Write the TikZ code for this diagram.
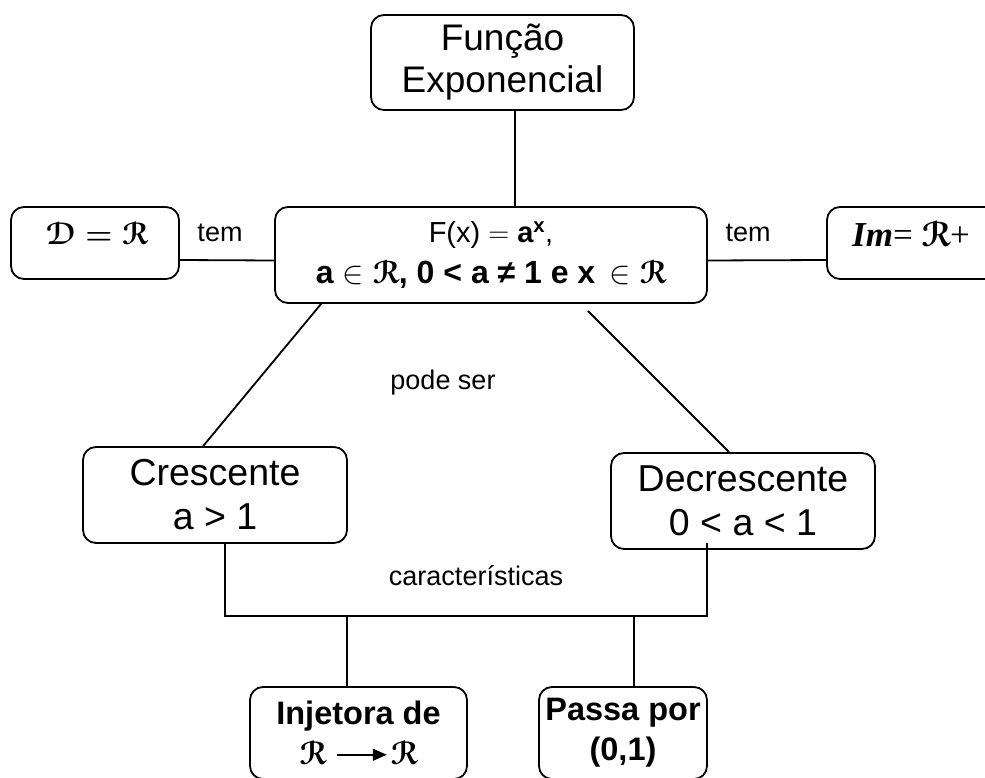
\RequirePackage{fix-cm}
\documentclass[tikz,border=0pt]{standalone}
\usepackage{amsmath}
\usepackage[mathcal]{eucal}
\usepackage{fontspec}
\setmainfont{Liberation Sans}
\newfontfamily\serifface{Liberation Serif}
\usetikzlibrary{arrows.meta}
\newcommand{\bR}{$\boldsymbol{\mathcal{R}}$}
\newcommand{\bIn}{$\in$}
\begin{document}
\begin{tikzpicture}[x=1pt,y=-1pt,
  box/.style={draw,rounded corners=13pt,line width=1.8pt,inner sep=0pt,align=center},
  lbl/.style={inner sep=0pt,font=\fontsize{27}{30}\selectfont},
  conn/.style={line width=1.8pt}]
\useasboundingbox (0,0) rectangle (985,778);
\begin{scope}
\clip (0,0) rectangle (985,778);
% boxes
\node[box,minimum width=263pt,minimum height=95pt,font=\fontsize{37}{42}\selectfont] (top) at (502.5,62.5) {Função\\Exponencial};
\node[box,minimum width=432pt,minimum height=96pt,font=\fontsize{32}{41}\selectfont] (main) at (491,255) {{\fontsize{29}{41}\selectfont F(x) $=$ \textbf{a\textsuperscript{x}},}\\ \textbf{a \bIn{} \bR, 0 < a ≠ 1 e x\hspace{0.45em}\bIn{} \bR}};
\node[box,minimum width=168pt,minimum height=72pt] (D) at (95,243) {};
\node[inner sep=0pt,font=\fontsize{31}{36}\selectfont] (Dt) at (97,234) {$\boldsymbol{\mathcal{D} = \mathcal{R}}$};
\node[box,minimum width=183pt,minimum height=72pt] (Im) at (918.5,243) {};
\node[inner sep=0pt,font=\fontsize{35}{40}\selectfont\serifface] (Imt) at (911,234) {\textbf{\textit{Im}}= \bR+};
\node[box,minimum width=264pt,minimum height=96pt,font=\fontsize{37.5}{44}\selectfont] (cres) at (215,495) {Crescente\\a > 1};
\node[box,minimum width=264pt,minimum height=96pt,font=\fontsize{37.5}{44}\selectfont] (dec) at (743,501) {Decrescente\\0 < a < 1};
\node[box,minimum width=217pt,minimum height=92pt,font=\fontsize{32.5}{40}\selectfont\bfseries] (inj) at (358.5,733) {Injetora de\\ \bR{}\hspace{0.3em}\tikz[x=1pt,y=1pt,baseline=-10pt]\draw[line width=1.6pt,-{Triangle[length=14pt,width=12pt]}] (0,0)--(50,0);\hspace{0.1em}\bR};
\node[box,minimum width=168pt,minimum height=92pt,font=\fontsize{32.5}{40}\selectfont\bfseries] (pas) at (623,733) {Passa por\\(0,1)};
% labels
\node[lbl] (tem1) at (220,233) {tem};
\node[lbl] (tem2) at (748,233) {tem};
\node[lbl] (pode) at (443,383) {pode ser};
\node[lbl] (car) at (476,576) {características};
% connectors
\draw[conn] ([xshift=12.5pt]top.south) -- ([xshift=24pt]main.north);
\draw[conn] ([yshift=-17pt]D.east) -- ([yshift=-5.5pt]main.west);
\draw[conn] ([yshift=-5.5pt]main.east) -- ([yshift=-17pt]Im.west);
\draw[conn] ([xshift=47pt]main.south west) -- ([xshift=121pt]cres.north west);
\draw[conn] ([shift={(-120pt,-7pt)}]main.south east) -- ([xshift=119pt]dec.north west);
\path ([xshift=143pt]cres.south west) ++(0,72) coordinate (bl);
\draw[conn] ([xshift=143pt]cres.south west) -- (bl) -| ([shift={(97pt,7pt)}]dec.south west);
\draw[conn] ([xshift=-11.5pt]inj.north) -- ([xshift=-11.5pt]inj.north |- bl);
\draw[conn] ([xshift=11pt]pas.north) -- ([xshift=11pt]pas.north |- bl);
\end{scope}
\end{tikzpicture}
\end{document}
